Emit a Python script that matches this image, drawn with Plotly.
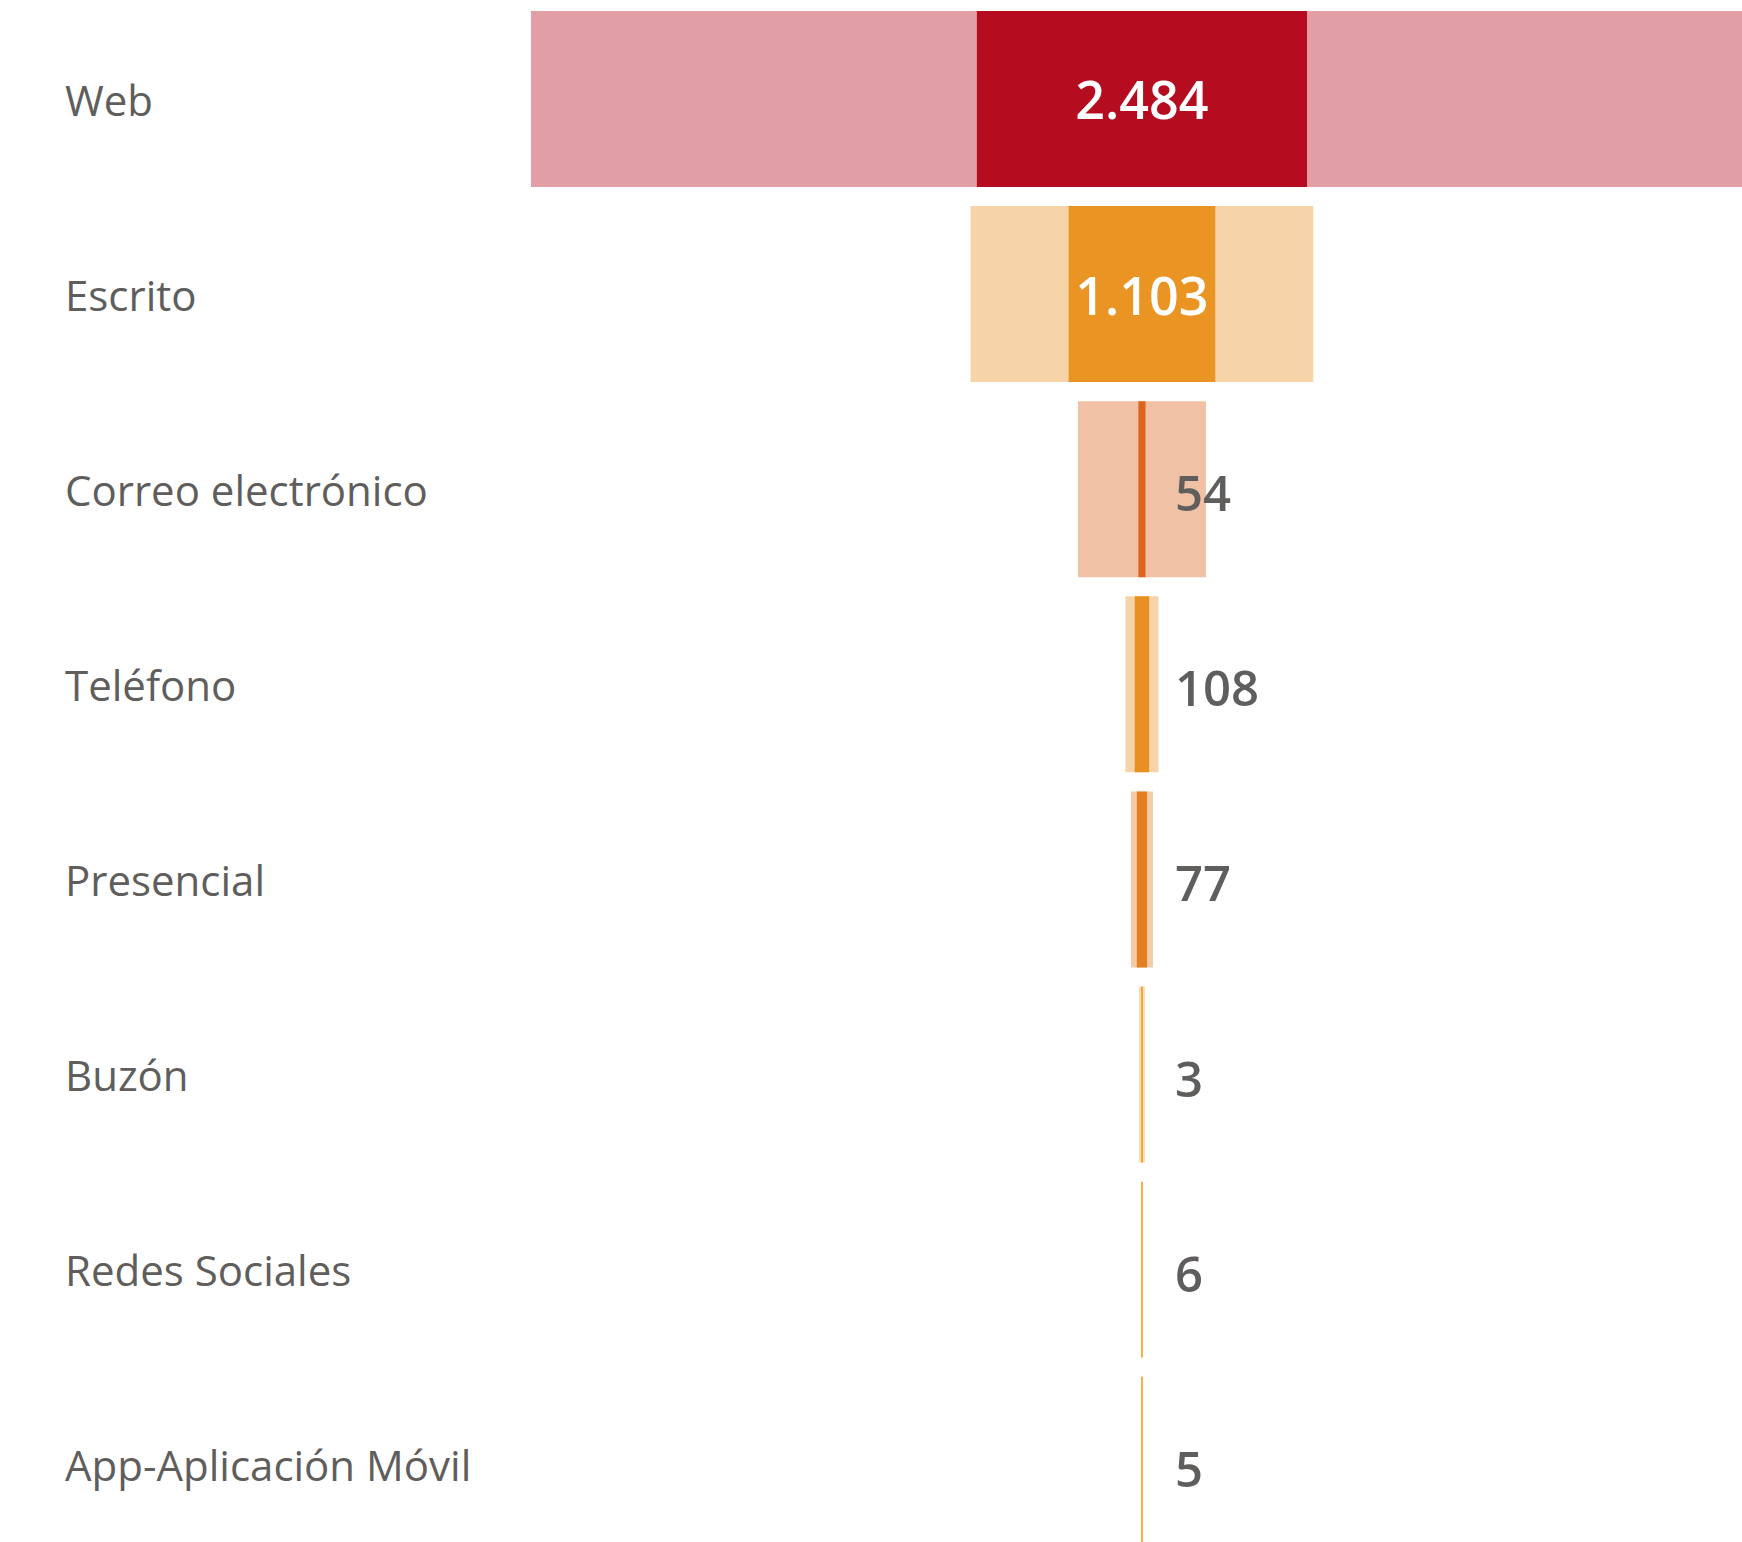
import plotly.graph_objects as go

categories = ["Web", "Escrito", "Correo electrónico", "Teléfono", "Presencial",
              "Buzón", "Redes Sociales", "App-Aplicación Móvil"]
values = [2484, 1103, 54, 108, 77, 3, 6, 5]
outer_values = [9194, 2579, 963, 248, 166, 45, 8, 7]
value_labels = ["2.484", "1.103", "54", "108", "77", "3", "6", "5"]
bar_colors = ["#B50D1F", "#EA9424", "#DC6420", "#E99025", "#E37E22",
              "#F2A93B", "#F5B041", "#F3B043"]
inside_label = [True, True, False, False, False, False, False, False]

W, H = 1742, 1542
ML = 531

fig = go.Figure()

fig.add_trace(go.Bar(
    y=categories, x=outer_values, base=[-v / 2 for v in outer_values],
    orientation="h", width=0.902,
    marker=dict(color=bar_colors, opacity=0.4, line=dict(width=0)),
    hoverinfo="skip", showlegend=False,
))
fig.add_trace(go.Bar(
    y=categories, x=values, base=[-v / 2 for v in values],
    orientation="h", width=0.902,
    marker=dict(color=bar_colors, line=dict(width=0)),
    text=[lab if ins else "" for lab, ins in zip(value_labels, inside_label)],
    textposition="inside", insidetextanchor="middle", textangle=0,
    insidetextfont=dict(family="Open Sans", size=52, color="white", weight=600),
    constraintext="none",
    hoverinfo="skip", showlegend=False,
))

annotations = []
for cat, lab, ins in zip(categories, value_labels, inside_label):
    annotations.append(dict(
        xref="paper", yref="y", x=-(ML - 63) / (W - ML), y=cat,
        text=cat, showarrow=False, xanchor="left", yanchor="middle",
        font=dict(family="Open Sans", size=42, color="#605E5C", weight=400),
    ))
    if not ins:
        annotations.append(dict(
            xref="x", yref="y", x=0, y=cat, xshift=31, yshift=-3,
            text=lab, showarrow=False, xanchor="left", yanchor="middle",
            font=dict(family="Open Sans", size=49, color="#605E5C", weight=600),
        ))

fig.update_layout(
    width=W, height=H,
    margin=dict(l=ML, r=0, t=0, b=0),
    paper_bgcolor="white", plot_bgcolor="white",
    barmode="overlay",
    xaxis=dict(range=[-4597, 4515], visible=False, fixedrange=True),
    yaxis=dict(type="category", categoryorder="array", categoryarray=categories,
               range=[7.396, -0.5074], visible=False, fixedrange=True),
    annotations=annotations,
    uniformtext=dict(mode=False),
)

fig.write_html(
    "out.html",
    config={"displayModeBar": False},
    post_script="document.body.style.margin='0';document.body.style.overflow='hidden';",
)
